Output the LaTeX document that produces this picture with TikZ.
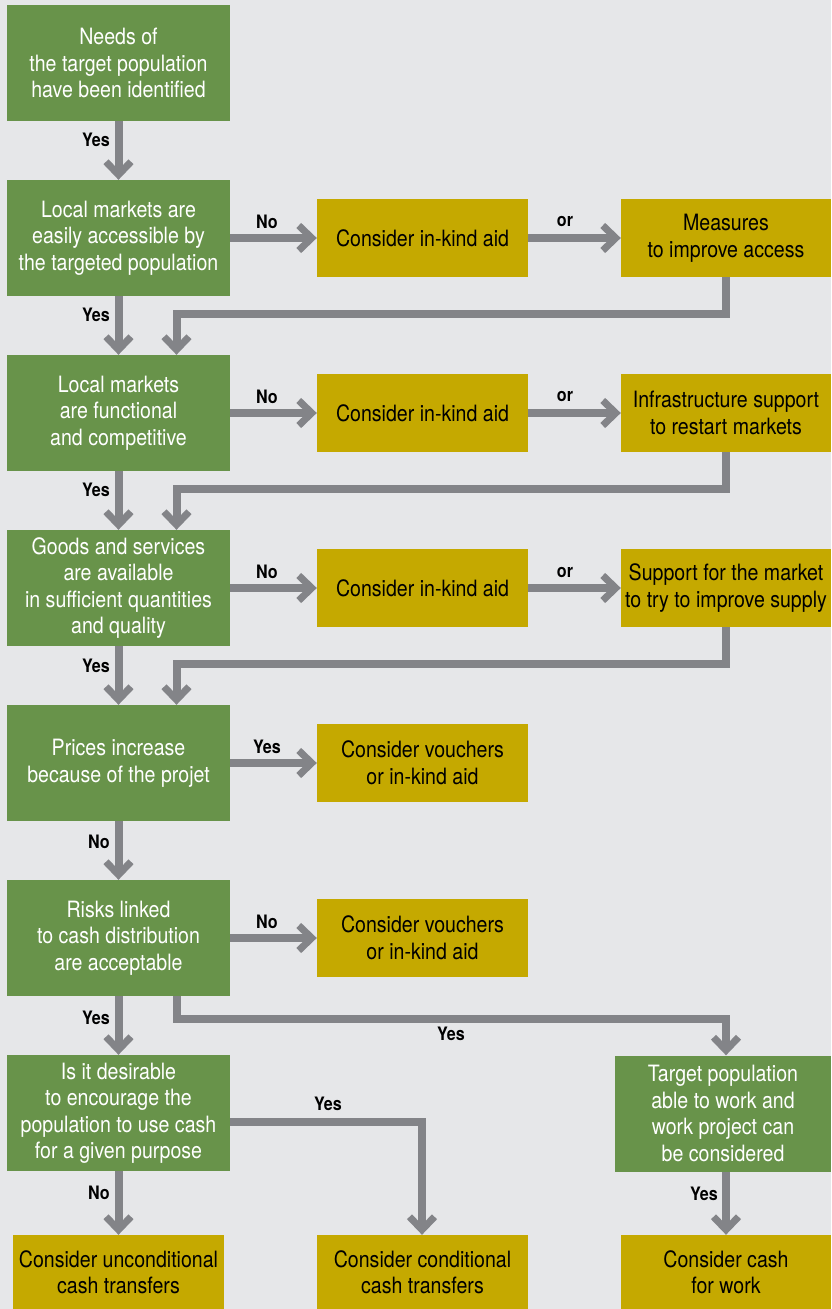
\documentclass[tikz,border=0pt]{standalone}
\usepackage{fontspec}
\newfontfamily\condfont[FakeStretch=0.87]{TeX Gyre Heros}
\usetikzlibrary{arrows.meta}
\definecolor{bgc}{HTML}{E6E7E9}
\definecolor{gbox}{HTML}{68934A}
\definecolor{ybox}{HTML}{C5A900}
\definecolor{arrc}{HTML}{838488}
\begin{document}
\begin{tikzpicture}[x=1pt,y=-1pt,
  every node/.style={font=\condfont\fontsize{22.5}{26.5}\selectfont, align=center, inner sep=0pt},
  gnode/.style={fill=gbox, text=white, minimum width=223pt, minimum height=116pt},
  ynode/.style={fill=ybox, text=black, minimum width=211pt, minimum height=78pt},
  bnode/.style={ynode, minimum height=74pt},
  conn/.style={draw=arrc, line width=8pt, line join=miter,
    -{Straight Barb[length=13pt,width=25pt,line width=7pt]}},
  lab/.style={font=\condfont\bfseries\fontsize{18.5}{20}\selectfont, text=black}
]
\fill[bgc] (0,0) rectangle (831,1309);
\useasboundingbox (0,0) rectangle (831,1309);

% decision column
\node[gnode] (g1) at (118.5,63)   {Needs of\\the target population\\have been identified};
\node[gnode] (g2) at (118.5,238)  {Local markets are\\easily accessible by\\the targeted population};
\node[gnode] (g3) at (118.5,413)  {Local markets\\are functional\\and competitive};
\node[gnode] (g4) at (118.5,588)  {Goods and services\\are available\\in sufficient quantities\\and quality};
\node[gnode] (g5) at (118.5,763)  {Prices increase\\because of the projet};
\node[gnode] (g6) at (118.5,938)  {Risks linked\\to cash distribution\\are acceptable};
\node[gnode] (g7) at (118.5,1113) {Is it desirable\\to encourage the\\population to use cash\\for a given purpose};
\node[gnode, minimum width=216pt] (gw) at (723,1113.5) {Target population\\able to work and\\work project can\\be considered};

% middle options
\node[ynode] (k1) at (422.5,238) {Consider in-kind aid};
\node[ynode] (k2) at (422.5,413) {Consider in-kind aid};
\node[ynode] (k3) at (422.5,588) {Consider in-kind aid};
\node[ynode] (k4) at (422.5,763) {Consider vouchers\\or in-kind aid};
\node[ynode] (k5) at (422.5,938) {Consider vouchers\\or in-kind aid};

% right-hand measures
\node[ynode, minimum width=210pt] (m1) at (726,238) {Measures\\to improve access};
\node[ynode, minimum width=210pt] (m2) at (726,413) {Infrastructure support\\to restart markets};
\node[ynode, minimum width=210pt] (m3) at (726,588) {Support for the market\\to try to improve supply};

% outcomes
\node[bnode] (b1) at (118.5,1272) {Consider unconditional\\cash transfers};
\node[bnode] (b2) at (422.5,1272) {Consider conditional\\cash transfers};
\node[bnode, minimum width=210pt] (b3) at (726,1272) {Consider cash\\for work};

% junction points of the return lines
\coordinate (j1) at (176.5,313.5);
\coordinate (j2) at (176.5,488.5);
\coordinate (j3) at (176.5,663.5);
\coordinate (j4) at (176.5,1019);
\coordinate (j5) at (422,1121.5);

% main column
\draw[conn] (g1.south) -- (g2.north);
\draw[conn] (g2.south) -- (g3.north);
\draw[conn] (g3.south) -- (g4.north);
\draw[conn] (g4.south) -- (g5.north);
\draw[conn] (g5.south) -- (g6.north);
\draw[conn] (g6.south) -- (g7.north);
\draw[conn] (g7.south) -- (b1.north);

% side branches
\draw[conn] (g2.east) -- (k1.west);
\draw[conn] (k1.east) -- (m1.west);
\draw[conn] (g3.east) -- (k2.west);
\draw[conn] (k2.east) -- (m2.west);
\draw[conn] (g4.east) -- (k3.west);
\draw[conn] (k3.east) -- (m3.west);
\draw[conn] (g5.east) -- (k4.west);
\draw[conn] (g6.east) -- (k5.west);

% return lines
\draw[conn] (m1.south) |- (j1) -- (j1 |- g3.north);
\draw[conn] (m2.south) |- (j2) -- (j2 |- g4.north);
\draw[conn] (m3.south) |- (j3) -- (j3 |- g5.north);

% lower branches
\draw[conn] (j4 |- g6.south) -- (j4) -| (b3.north |- gw.north);
\draw[conn] (g7.east |- j5) -- (j5) -- (j5 |- b2.north);
\draw[conn] (b3.north |- gw.south) -- (b3.north);

% labels
\node[lab] (y1) at (96,140) {Yes};
\node[lab] (y2) at (96,315) {Yes};
\node[lab] (y3) at (96,490) {Yes};
\node[lab] (y4) at (96,666) {Yes};
\node[lab] (n5) at (99,842) {No};
\node[lab] (y6) at (96,1018) {Yes};
\node[lab] (n7) at (99,1193) {No};
\node[lab] (yw) at (704,1194) {Yes};
\node[lab] (h2) at (267,222) {No};
\node[lab] (o2) at (565,222) {or};
\node[lab] (h3) at (267,397) {No};
\node[lab] (o3) at (565,397) {or};
\node[lab] (h4) at (267,572) {No};
\node[lab] (o4) at (565,572) {or};
\node[lab] (h5) at (267,747) {Yes};
\node[lab] (h6) at (267,922) {No};
\node[lab] (h7) at (451,1034) {Yes};
\node[lab] (h8) at (328,1104) {Yes};
\end{tikzpicture}
\end{document}
